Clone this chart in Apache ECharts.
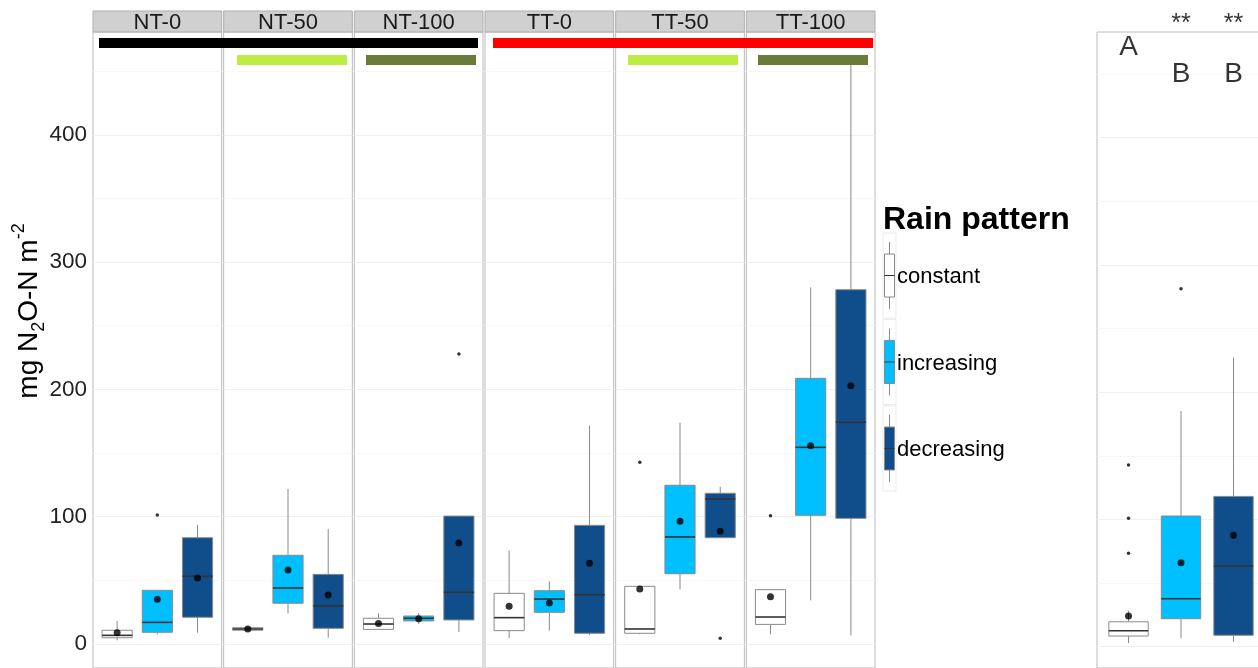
<!DOCTYPE html>
<html><head><meta charset="utf-8">
<script src="https://cdn.jsdelivr.net/npm/echarts@6/dist/echarts.min.js"></script>
<style>html,body{margin:0;padding:0;background:#fff}#c{width:1258px;height:668px}</style>
</head><body><div id="c"></div>
<script>
// ---------- data ----------
const panels = ['NT-0', 'NT-50', 'NT-100', 'TT-0', 'TT-50', 'TT-100'];
const patterns = ['constant', 'increasing', 'decreasing'];
const patternColors = ['#FFFFFF', '#00BFFF', '#104E8B'];
// [lower whisker, Q1, median, Q3, upper whisker] for each panel
const constantStats = [
  [2.9, 4.9, 6.8, 10.8, 18.1],
  [10.5, 10.8, 11.8, 12.8, 13.6],
  [11.5, 11.5, 15.7, 20.2, 24.1],
  [4.7, 10.5, 20.7, 39.8, 73.3],
  [7.6, 8.4, 11.8, 45.3, 45.3],
  [7.6, 15.4, 21.2, 42.7, 42.7]
];
const increasingStats = [
  [7.6, 9.2, 17.0, 42.2, 42.2],
  [24.1, 32.0, 44.0, 69.7, 121.8],
  [15.7, 18.1, 20.2, 22.0, 24.3],
  [10.5, 24.9, 35.3, 41.9, 49.2],
  [43.0, 55.2, 84.1, 124.7, 173.9],
  [34.3, 101.1, 154.5, 208.7, 280.2]
];
const decreasingStats = [
  [8.9, 21.0, 53.2, 83.5, 93.5],
  [4.9, 12.3, 29.9, 54.7, 90.3],
  [9.4, 18.9, 40.6, 100.5, 100.5],
  [7.1, 8.4, 38.7, 93.2, 171.5],
  [83.5, 83.5, 113.9, 118.4, 123.6],
  [6.8, 98.7, 174.2, 278.3, 460]
];
const constantMeans = [8.9, 11.8, 16.2, 29.6, 43.2, 37.2];
const increasingMeans = [35.1, 58.1, 19.9, 32.2, 96.4, 155.8];
const decreasingMeans = [51.8, 38.5, 79.3, 63.4, 88.5, 202.9];
// [panel index, pattern index, value]
const panelOutliers = [[0, 1, 101.3], [2, 2, 227.8], [4, 0, 142.7], [4, 2, 4.5], [5, 0, 100.8]];
// pooled panel (all treatments)
const pooledStats = [
  [2.9, 8.4, 12.6, 19.6, 28.3],
  [6.6, 22.0, 37.7, 102.7, 185.2],
  [3.9, 9.0, 63.4, 118.1, 227.0]
];
const pooledMeans = [24.1, 66.0, 87.5];
const pooledOutliers = [[0, 142.7], [0, 100.9], [0, 73.4], [1, 281.2]];
const sigLetters = ['A', 'B', 'B'];
const sigLetterY = [471, 450, 450];
const sigStars = ['', '**', '**'];
const sigStarY = [489, 489, 489];
const yTicks = [0, 100, 200, 300, 400];
const gridMajor = [0, 100, 200, 300, 400];
const gridMinor = [50, 150, 250, 350, 450];

// ---------- chart ----------
const FONT = '"Liberation Sans", Arial, sans-serif';
const chart = echarts.init(document.getElementById('c'), null, {renderer: 'canvas'});
const statsByPattern = [constantStats, increasingStats, decreasingStats];
const meansByPattern = [constantMeans, increasingMeans, decreasingMeans];

const PANEL_L = 93, PANEL_STEP = 130.67, PANEL_W = 128.67, TOP = 32, H = 636;

function renderBox(params, api) {
  const x = api.value(0);
  const pLo = api.coord([x, api.value(1)]);
  const pQ1 = api.coord([x, api.value(2)]);
  const pMed = api.coord([x, api.value(3)]);
  const pQ3 = api.coord([x, api.value(4)]);
  const pHi = api.coord([x, api.value(5)]);
  const w = api.size([0.75, 0])[0];
  const cx = pMed[0];
  const fill = api.visual('color');
  const wl = {stroke: '#8A8A8A', lineWidth: 1};
  return {
    type: 'group',
    children: [
      {type: 'line', shape: {x1: cx, y1: pLo[1], x2: cx, y2: pQ1[1]}, style: wl},
      {type: 'line', shape: {x1: cx, y1: pQ3[1], x2: cx, y2: pHi[1]}, style: wl},
      {type: 'rect', shape: {x: cx - w / 2, y: pQ3[1], width: w, height: pQ1[1] - pQ3[1]},
        style: {fill: fill, stroke: '#8A8A8A', lineWidth: 1}},
      {type: 'line', shape: {x1: cx - w / 2, y1: pMed[1], x2: cx + w / 2, y2: pMed[1]},
        style: {stroke: '#333333', lineWidth: 1.6}}
    ]
  };
}

const grids = [], xAxes = [], yAxes = [], series = [];
const gridLineMarks = {
  silent: true, symbol: 'none', z: 1, animation: false,
  label: {show: false},
  data: gridMajor.map(v => ({yAxis: v, lineStyle: {color: '#F0F0F0', width: 1, type: 'solid'}}))
    .concat(gridMinor.map(v => ({yAxis: v, lineStyle: {color: '#F7F7F7', width: 1, type: 'solid'}})))
};

function addPanel(gi, gridRect, ymin, ymax, boxes, means, outs, showLabels) {
  grids.push(Object.assign({show: true, borderColor: '#BBBBBB', borderWidth: 1,
    backgroundColor: 'rgba(0,0,0,0)', containLabel: false, outerBoundsMode: 'none'}, gridRect));
  xAxes.push({gridIndex: gi, type: 'value', min: 0.4, max: 3.6, show: false});
  yAxes.push({gridIndex: gi, type: 'value', min: ymin, max: ymax, show: showLabels,
    axisLine: {show: false}, axisTick: {show: false}, splitLine: {show: false},
    axisLabel: {show: showLabels, customValues: yTicks, fontSize: 22.5, color: '#222',
      fontFamily: FONT, margin: 6, formatter: v => String(Math.round(v))}});
  series.push({
    type: 'custom', xAxisIndex: gi, yAxisIndex: gi, z: 3, clip: false,
    renderItem: renderBox,
    dimensions: ['x', 'lo', 'q1', 'med', 'q3', 'hi'],
    encode: {x: 0, y: [1, 2, 3, 4, 5]},
    data: boxes.map((s, k) => ({value: [k + 1].concat(s), itemStyle: {color: patternColors[k]}}))
  });
  series.push({
    type: 'scatter', xAxisIndex: gi, yAxisIndex: gi, z: 5, symbolSize: 7,
    itemStyle: {color: '#000'}, silent: true,
    data: means.map((m, k) => [k + 1, m]),
    markLine: gridLineMarks
  });
  series.push({
    type: 'scatter', xAxisIndex: gi, yAxisIndex: gi, z: 5, symbolSize: 3.5,
    itemStyle: {color: '#000'}, silent: true,
    data: outs
  });
}

panels.forEach((p, i) => {
  addPanel(i, {left: PANEL_L + i * PANEL_STEP, top: TOP, width: PANEL_W, height: H},
    -18.85, 480.75,
    statsByPattern.map(s => s[i]),
    meansByPattern.map(m => m[i]),
    panelOutliers.filter(o => o[0] === i).map(o => [o[1] + 1, o[2]]),
    i === 0);
});
addPanel(6, {left: 1097, top: TOP, width: 168, height: H}, -16.7, 482.9,
  pooledStats, pooledMeans, pooledOutliers.map(o => [o[0] + 1, o[1]]), false);

// significance letters in the pooled panel
series.push({
  type: 'scatter', xAxisIndex: 6, yAxisIndex: 6, symbolSize: 0, z: 6, clip: false, silent: true,
  label: {show: true, position: 'inside', formatter: '{b}', fontSize: 28, color: '#000', fontFamily: FONT},
  data: sigLetters.map((l, k) => ({name: l, value: [k + 1, sigLetterY[k]]}))
});
series.push({
  type: 'scatter', xAxisIndex: 6, yAxisIndex: 6, symbolSize: 0, z: 6, clip: false, silent: true,
  label: {show: true, position: 'inside', formatter: '{b}', fontSize: 25, color: '#000', fontFamily: FONT},
  data: sigStars.map((l, k) => ({name: l, value: [k + 1, sigStarY[k]]})).filter(d => d.name)
});

// ---------- decorations: strips, bars, legend, axis title ----------
const graphic = [];
panels.forEach((p, i) => {
  const x = PANEL_L + i * PANEL_STEP;
  graphic.push({type: 'rect', shape: {x: x, y: 11, width: PANEL_W, height: 21},
    style: {fill: '#D0D0D0', stroke: '#ADADAD', lineWidth: 1}, z: 10});
  graphic.push({type: 'text', x: x + PANEL_W / 2, y: 22.5,
    style: {text: p, fontSize: 22, fontFamily: FONT, fill: '#1A1A1A', align: 'center', verticalAlign: 'middle'}, z: 11});
});
const bars = [
  [99, 38, 379, 10, '#000000'], [493, 38, 380, 10, '#FF0000'],
  [237, 55, 110, 10, '#BDED45'], [628, 55, 110, 10, '#BDED45'],
  [366, 55, 110, 10, '#6B7B3A'], [758, 55, 110, 10, '#6B7B3A']
];
bars.forEach(b => graphic.push({type: 'rect', shape: {x: b[0], y: b[1], width: b[2], height: b[3]},
  style: {fill: b[4]}, z: 12}));

// legend
graphic.push({type: 'text', x: 883, y: 220,
  style: {text: 'Rain pattern', fontSize: 32, fontWeight: 'bold', fontFamily: FONT, fill: '#000',
    align: 'left', verticalAlign: 'middle'}, z: 10});
const keyTops = [233, 319.5, 406];
patterns.forEach((p, k) => {
  const t = keyTops[k];
  graphic.push({type: 'rect', shape: {x: 883, y: t, width: 13, height: 85},
    style: {fill: '#FFFFFF', stroke: '#EBEBEB', lineWidth: 1}, z: 10});
  graphic.push({type: 'line', shape: {x1: 889.5, y1: t + 9, x2: 889.5, y2: t + 76},
    style: {stroke: '#8A8A8A', lineWidth: 1}, z: 11});
  graphic.push({type: 'rect', shape: {x: 884.5, y: t + 21, width: 10, height: 43},
    style: {fill: patternColors[k], stroke: '#8A8A8A', lineWidth: 1}, z: 12});
  graphic.push({type: 'line', shape: {x1: 884.5, y1: t + 42.5, x2: 894.5, y2: t + 42.5},
    style: {stroke: '#333', lineWidth: 1}, z: 13});
  graphic.push({type: 'text', x: 897, y: t + 44,
    style: {text: p, fontSize: 22, fontFamily: FONT, fill: '#000', align: 'left', verticalAlign: 'middle'}, z: 11});
});

// y-axis title with subscript / superscript
graphic.push({type: 'text', x: 29, y: 311, rotation: Math.PI / 2,
  style: {
    text: '{a|mg N}{sub|2}{a|O-N m}{sup|-2}',
    align: 'center', verticalAlign: 'middle', fill: '#000',
    rich: {
      a: {fontSize: 28, fontFamily: FONT, lineHeight: 38, verticalAlign: 'middle', fill: '#000'},
      sub: {fontSize: 18, fontFamily: FONT, lineHeight: 21, verticalAlign: 'bottom', fill: '#000'},
      sup: {fontSize: 18, fontFamily: FONT, lineHeight: 21, verticalAlign: 'top', fill: '#000'}
    }
  }, z: 10});

chart.setOption({
  animation: false,
  backgroundColor: '#FFFFFF',
  grid: grids,
  xAxis: xAxes,
  yAxis: yAxes,
  series: series,
  graphic: graphic
});
</script></body></html>
